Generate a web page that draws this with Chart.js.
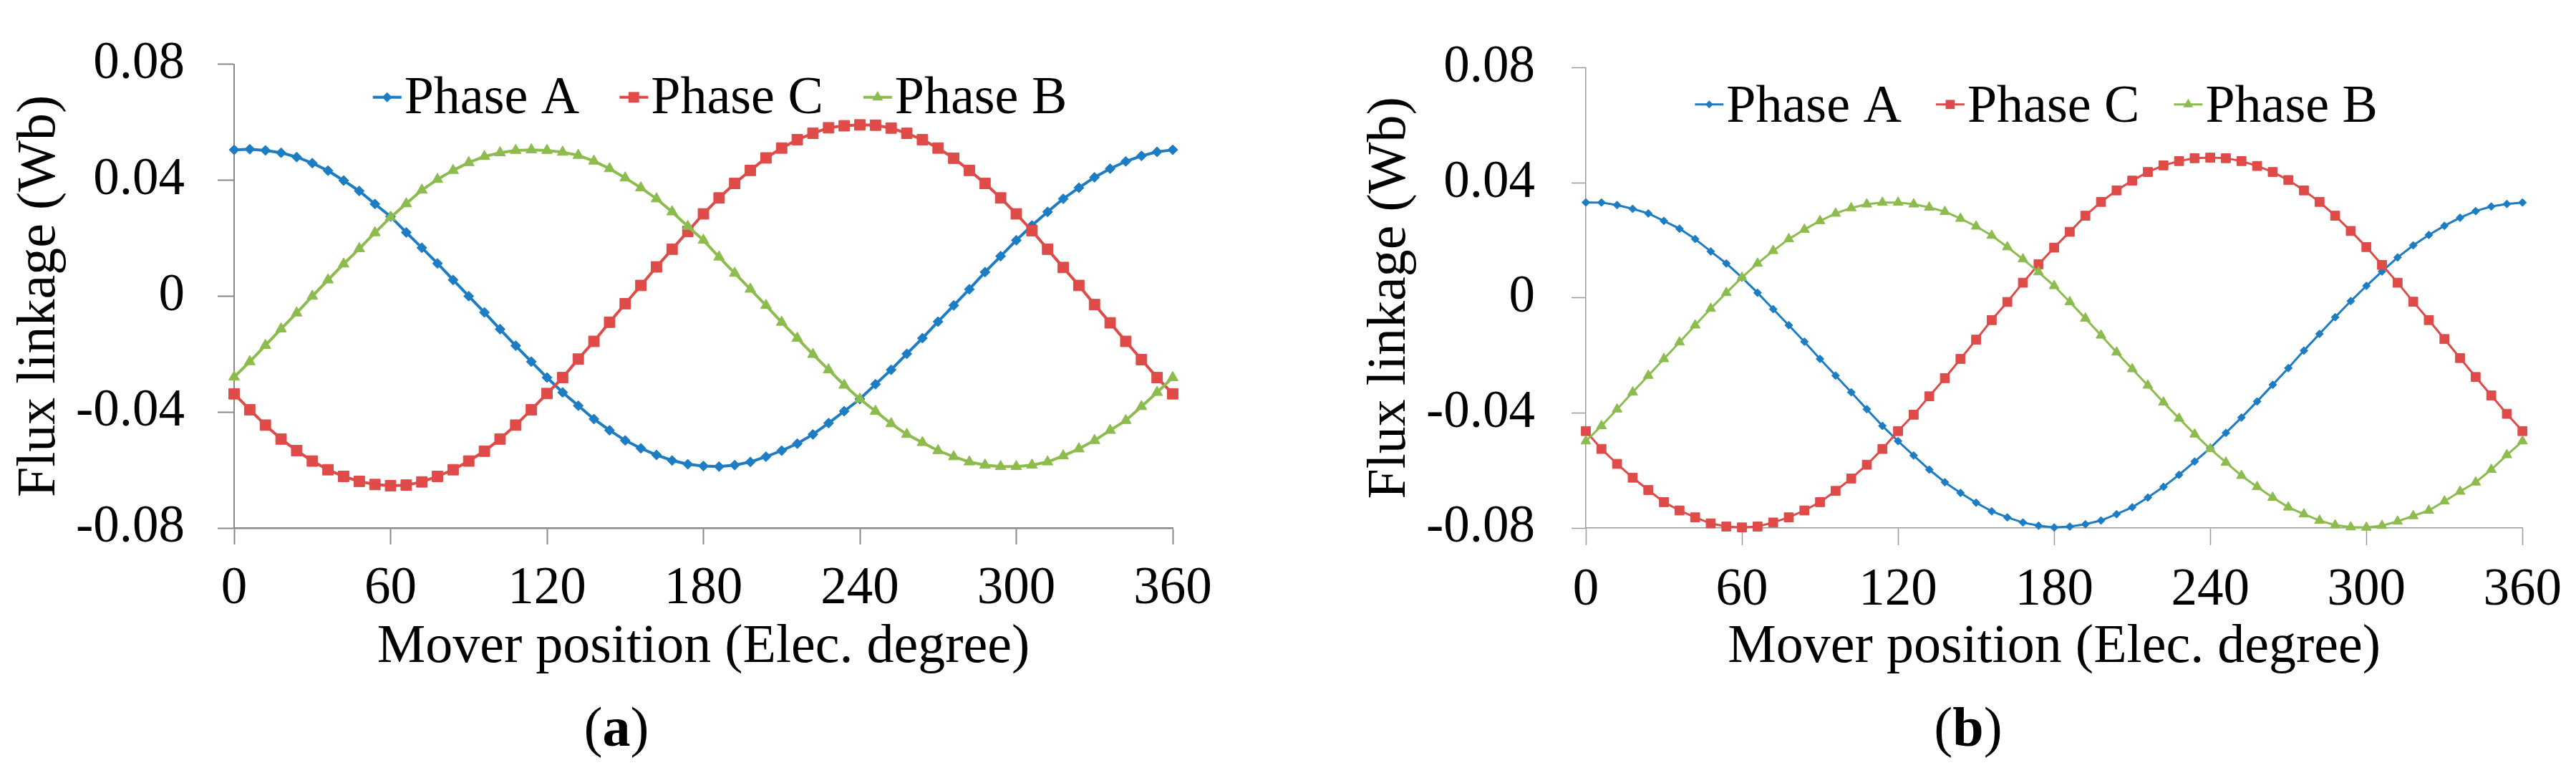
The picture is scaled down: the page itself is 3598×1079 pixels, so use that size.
<!DOCTYPE html>
<html>
<head>
<meta charset="utf-8">
<script src="https://cdn.jsdelivr.net/npm/chart.js@4.4.1/dist/chart.umd.min.js"></script>
<style>
  body { margin: 0; background: #fff; width: 3598px; height: 1079px; overflow: hidden; position: relative; }
  canvas { position: absolute; top: 0; }
  #graficaA { left: 0; }
  #graficaB { left: 1799px; }
  .caption {
    position: absolute; top: 976px; width: 200px; text-align: center;
    font-family: "Liberation Serif", "Times New Roman", serif; font-size: 78px; line-height: 78px; color: #000;
  }
</style>
</head>
<body>
<canvas id="graficaA" width="1799" height="960"></canvas>
<canvas id="graficaB" width="1799" height="960"></canvas>
<div class="caption" style="left: 761px;">(<b>a</b>)</div>
<div class="caption" style="left: 2649px;">(<b>b</b>)</div>
<script>
// mover position, electrical degrees (one point every 6 deg)
const posiciones = [
  0, 6, 12, 18, 24, 30, 36, 42, 48, 54,
  60, 66, 72, 78, 84, 90, 96, 102, 108, 114,
  120, 126, 132, 138, 144, 150, 156, 162, 168, 174,
  180, 186, 192, 198, 204, 210, 216, 222, 228, 234,
  240, 246, 252, 258, 264, 270, 276, 282, 288, 294,
  300, 306, 312, 318, 324, 330, 336, 342, 348, 354,
  360
];
const xTicks = [0, 60, 120, 180, 240, 300, 360];
const xTickLabels = ["0", "60", "120", "180", "240", "300", "360"];
const yTicks = [-0.08, -0.04, 0, 0.04, 0.08];
const yTickLabels = ["-0.08", "-0.04", "0", "0.04", "0.08"];
const fases = ["Phase A", "Phase C", "Phase B"];

// (a) flux linkage, Wb
const faseA_a = [
  0.0505, 0.0507, 0.0503, 0.0495, 0.0480, 0.0459, 0.0433, 0.0399, 0.0363, 0.0318,
  0.0275, 0.0220, 0.0167, 0.0113, 0.0056, 0.0000, -0.0056, -0.0114, -0.0171, -0.0226,
  -0.0281, -0.0332, -0.0378, -0.0424, -0.0463, -0.0498, -0.0525, -0.0548, -0.0567, -0.0580,
  -0.0586, -0.0588, -0.0583, -0.0572, -0.0554, -0.0533, -0.0509, -0.0477, -0.0438, -0.0397,
  -0.0355, -0.0304, -0.0254, -0.0199, -0.0145, -0.0088, -0.0032, 0.0024, 0.0083, 0.0138,
  0.0193, 0.0244, 0.0291, 0.0336, 0.0374, 0.0410, 0.0440, 0.0465, 0.0484, 0.0498,
  0.0505
];
const faseC_a = [
  -0.0337, -0.0392, -0.0445, -0.0493, -0.0533, -0.0569, -0.0599, -0.0622, -0.0639, -0.0650,
  -0.0654, -0.0652, -0.0641, -0.0622, -0.0599, -0.0569, -0.0535, -0.0493, -0.0445, -0.0392,
  -0.0336, -0.0281, -0.0217, -0.0156, -0.0090, -0.0026, 0.0037, 0.0101, 0.0162, 0.0223,
  0.0284, 0.0339, 0.0389, 0.0434, 0.0477, 0.0511, 0.0540, 0.0562, 0.0581, 0.0588,
  0.0591, 0.0590, 0.0580, 0.0562, 0.0540, 0.0511, 0.0476, 0.0434, 0.0389, 0.0339,
  0.0284, 0.0226, 0.0162, 0.0099, 0.0037, -0.0029, -0.0092, -0.0156, -0.0219, -0.0281,
  -0.0337
];
const faseB_a = [
  -0.0279, -0.0226, -0.0170, -0.0113, -0.0058, 0.0000, 0.0056, 0.0111, 0.0164, 0.0219,
  0.0272, 0.0319, 0.0366, 0.0403, 0.0434, 0.0461, 0.0482, 0.0495, 0.0503, 0.0505,
  0.0503, 0.0497, 0.0486, 0.0466, 0.0440, 0.0408, 0.0374, 0.0336, 0.0291, 0.0241,
  0.0193, 0.0135, 0.0079, 0.0024, -0.0032, -0.0090, -0.0145, -0.0201, -0.0254, -0.0307,
  -0.0355, -0.0397, -0.0440, -0.0477, -0.0505, -0.0533, -0.0554, -0.0572, -0.0583, -0.0588,
  -0.0588, -0.0583, -0.0572, -0.0551, -0.0527, -0.0498, -0.0463, -0.0429, -0.0381, -0.0332,
  -0.0281
];

// (b) flux linkage, Wb
const faseA_b = [
  0.0332, 0.0332, 0.0323, 0.0310, 0.0294, 0.0268, 0.0241, 0.0205, 0.0162, 0.0120,
  0.0071, 0.0018, -0.0039, -0.0095, -0.0152, -0.0212, -0.0270, -0.0328, -0.0387, -0.0445,
  -0.0498, -0.0548, -0.0597, -0.0641, -0.0678, -0.0712, -0.0742, -0.0763, -0.0781, -0.0792,
  -0.0798, -0.0795, -0.0787, -0.0774, -0.0752, -0.0728, -0.0694, -0.0657, -0.0615, -0.0569,
  -0.0522, -0.0469, -0.0416, -0.0360, -0.0302, -0.0244, -0.0183, -0.0125, -0.0067, -0.0011,
  0.0042, 0.0092, 0.0141, 0.0183, 0.0219, 0.0251, 0.0279, 0.0302, 0.0318, 0.0327,
  0.0332
];
const faseC_b = [
  -0.0463, -0.0525, -0.0577, -0.0625, -0.0668, -0.0710, -0.0739, -0.0763, -0.0784, -0.0795,
  -0.0798, -0.0795, -0.0781, -0.0763, -0.0739, -0.0710, -0.0671, -0.0628, -0.0580, -0.0525,
  -0.0463, -0.0406, -0.0342, -0.0279, -0.0212, -0.0145, -0.0077, -0.0014, 0.0053, 0.0117,
  0.0175, 0.0230, 0.0286, 0.0334, 0.0374, 0.0408, 0.0438, 0.0461, 0.0476, 0.0486,
  0.0488, 0.0486, 0.0476, 0.0459, 0.0438, 0.0410, 0.0374, 0.0334, 0.0286, 0.0233,
  0.0177, 0.0115, 0.0053, -0.0013, -0.0077, -0.0143, -0.0209, -0.0275, -0.0339, -0.0403,
  -0.0463
];
const faseB_b = [
  -0.0498, -0.0445, -0.0387, -0.0328, -0.0270, -0.0212, -0.0154, -0.0095, -0.0037, 0.0018,
  0.0071, 0.0120, 0.0164, 0.0205, 0.0238, 0.0268, 0.0294, 0.0313, 0.0326, 0.0332,
  0.0332, 0.0326, 0.0315, 0.0300, 0.0276, 0.0249, 0.0217, 0.0177, 0.0135, 0.0090,
  0.0042, -0.0014, -0.0071, -0.0130, -0.0189, -0.0247, -0.0304, -0.0363, -0.0419, -0.0474,
  -0.0525, -0.0572, -0.0618, -0.0657, -0.0694, -0.0728, -0.0752, -0.0774, -0.0790, -0.0797,
  -0.0798, -0.0792, -0.0777, -0.0758, -0.0739, -0.0707, -0.0673, -0.0641, -0.0597, -0.0546,
  -0.0498
];

const serif = "'Liberation Serif', 'Times New Roman', serif";
const colores = ["rgb(28, 125, 196)", "rgb(222, 75, 72)", "rgb(141, 188, 78)"];
const marcadores = ["rectRot", "rect", "triangle"];

function dibujaMarcador(ctx, estilo, x, y, r) {
  ctx.beginPath();
  if (estilo === "rectRot") {
    ctx.moveTo(x - r, y);
    ctx.lineTo(x, y - r);
    ctx.lineTo(x + r, y);
    ctx.lineTo(x, y + r);
  } else if (estilo === "rect") {
    const s = r * Math.SQRT1_2;
    ctx.rect(x - s, y - s, 2 * s, 2 * s);
  } else {
    ctx.moveTo(x, y - r);
    ctx.lineTo(x + r * Math.sin(2 * Math.PI / 3), y + r / 2);
    ctx.lineTo(x - r * Math.sin(2 * Math.PI / 3), y + r / 2);
  }
  ctx.closePath();
  ctx.fill();
}

// legend drawn inside the plot: line + marker, then the label
const leyendaLinea = {
  id: "leyendaLinea",
  afterDraw(chart, args, opts) {
    const { ctx, chartArea } = chart;
    const sets = chart.data.datasets;
    ctx.save();
    ctx.font = opts.size + "px " + serif;
    const anchos = sets.map((d) => opts.lineLen + opts.textGap + ctx.measureText(d.label).width);
    const total = anchos.reduce((t, a) => t + a, 0) + opts.itemGap * (sets.length - 1);
    let x = (chartArea.left + chartArea.right) / 2 + opts.shift - total / 2;
    const base = chartArea.top + opts.baseline;
    const yLinea = base - opts.lineRise;
    sets.forEach((d, i) => {
      ctx.strokeStyle = d.borderColor;
      ctx.fillStyle = d.borderColor;
      ctx.lineWidth = d.borderWidth;
      ctx.beginPath();
      ctx.moveTo(x, yLinea);
      ctx.lineTo(x + opts.lineLen, yLinea);
      ctx.stroke();
      dibujaMarcador(ctx, d.pointStyle, x + opts.lineLen / 2, yLinea, d.pointRadius);
      ctx.fillStyle = "#000";
      ctx.textBaseline = "alphabetic";
      ctx.fillText(d.label, x + opts.lineLen + opts.textGap, base);
      x += anchos[i] + opts.itemGap;
    });
    ctx.restore();
  },
};

function grafica(idCanvas, series, est) {
  const cxt = document.getElementById(idCanvas);
  return new Chart(cxt, {
    type: "line",
    data: {
      datasets: series.map((valores, i) => ({
        label: fases[i],
        data: posiciones.map((p, k) => ({ x: p, y: valores[k] })),
        borderColor: colores[i],
        backgroundColor: colores[i],
        borderWidth: est.lineWidth,
        pointStyle: marcadores[i],
        pointRadius: est.radios[i],
        pointBackgroundColor: colores[i],
        pointBorderColor: colores[i],
        pointBorderWidth: 1,
        tension: 0,
        clip: false,
        order: [3, 2, 1][i],
      })),
    },
    options: {
      responsive: false,
      animation: false,
      devicePixelRatio: 1,
      layout: { padding: { left: est.padLeft, right: est.padRight, top: est.padTop, bottom: 0 } },
      plugins: {
        legend: { display: false },
        tooltip: { enabled: false },
        leyendaLinea: est.leyenda,
      },
      scales: {
        x: {
          type: "linear",
          min: 0,
          max: 360,
          afterBuildTicks: (s) => { s.ticks = xTicks.map((v) => ({ value: v })); },
          afterFit: (s) => { s.height = cxt.height - est.bottom; },
          ticks: {
            color: "#000",
            font: { family: serif, size: 73 },
            padding: est.xPad,
            maxRotation: 0,
            autoSkip: false,
            callback: (v, i) => xTickLabels[i],
          },
          grid: { drawOnChartArea: false, drawTicks: true, tickLength: est.xTickLen, color: est.axisColor, tickWidth: est.tickWidth },
          border: { display: true, color: est.axisColor, width: est.xBorder },
          title: {
            display: true,
            text: "Mover position (Elec. degree)",
            color: "#000",
            font: { family: serif, size: 76 },
            padding: { top: 0, bottom: 10 },
          },
        },
        y: {
          min: -0.08,
          max: 0.08,
          afterBuildTicks: (s) => { s.ticks = yTicks.map((v) => ({ value: v })); },
          afterFit: (s) => { s.width = est.left - est.padLeft; },
          ticks: {
            color: "#000",
            font: { family: serif, size: 73 },
            padding: est.yPad,
            callback: (v, i) => yTickLabels[i],
          },
          grid: { drawOnChartArea: false, drawTicks: true, tickLength: est.yTickLen, color: est.axisColor, tickWidth: est.tickWidth },
          border: { display: true, color: est.axisColor, width: est.yBorder },
          title: {
            display: true,
            text: "Flux linkage (Wb)",
            color: "#000",
            font: { family: serif, size: 76 },
            padding: { top: 10, bottom: 0 },
          },
        },
      },
    },
    plugins: [leyendaLinea],
  });
}

grafica("graficaA", [faseA_a, faseC_a, faseB_a], {
  padLeft: 0, padRight: 161, padTop: 54, left: 327, bottom: 737,
  lineWidth: 4, radios: [7, 10.5, 8.7],
  axisColor: "#888888", xBorder: 2.5, yBorder: 2, tickWidth: 2,
  xTickLen: 23, yTickLen: 23, xPad: 19, yPad: 46,
  leyenda: { size: 74, lineLen: 40, textGap: 4, itemGap: 56, shift: 23, baseline: 68, lineRise: 22 },
});

grafica("graficaB", [faseA_b, faseC_b, faseB_b], {
  padLeft: 87, padRight: 71, padTop: 55, left: 416, bottom: 737,
  lineWidth: 3, radios: [5.5, 9, 8],
  axisColor: "#9a9a9a", xBorder: 1.5, yBorder: 1.5, tickWidth: 1.5,
  xTickLen: 24, yTickLen: 20, xPad: 20, yPad: 51,
  leyenda: { size: 74, lineLen: 40, textGap: 4, itemGap: 48, shift: -25, baseline: 75, lineRise: 24 },
});
</script>
</body>
</html>
